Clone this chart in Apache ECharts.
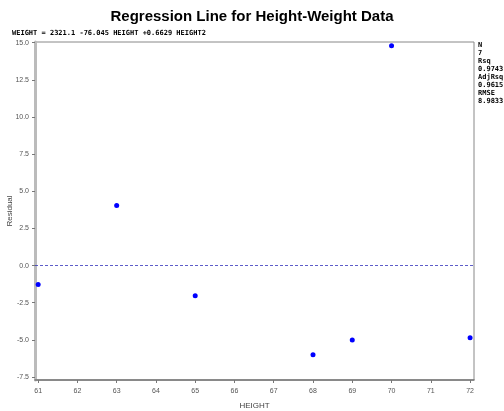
<!DOCTYPE html>
<html><head><meta charset="utf-8">
<script src="https://cdn.jsdelivr.net/npm/echarts@6/dist/echarts.min.js"></script>
<style>html,body{margin:0;padding:0;background:#fff}#c{width:504px;height:411px}</style>
</head><body><div id="c"></div>
<script>
const heights = [61, 63, 65, 68, 69, 70, 72];
const residuals = [-1.28, 4.05, -2.03, -6.0, -5.0, 14.8, -4.86];
const xTicks = [61, 62, 63, 64, 65, 66, 67, 68, 69, 70, 71, 72];
const yTicks = [-7.5, -5.0, -2.5, 0.0, 2.5, 5.0, 7.5, 10.0, 12.5, 15.0];
const titleText = 'Regression Line for Height-Weight Data';
const equationText = 'WEIGHT = 2321.1 -76.045 HEIGHT +0.6629 HEIGHT2';
const statsText = ['N', '7', 'Rsq', '0.9743', 'AdjRsq', '0.9615', 'RMSE', '8.9833'];

const chart = echarts.init(document.getElementById('c'), null, {renderer: 'canvas'});
const lbl = {fontFamily: 'Liberation Sans, Arial', fontSize: 7, color: '#555'};
chart.setOption({
  animation: false,
  title: {text: titleText, left: 'center', top: 4,
    textStyle: {fontFamily: 'Liberation Sans, Arial', fontWeight: 'bold', fontSize: 15, color: '#000'}},
  graphic: [
    {type: 'text', left: 12, top: 30, style: {text: equationText, font: 'bold 7px "DejaVu Sans Mono", monospace', fill: '#000'}},
    {type: 'text', left: 478, top: 41, style: {text: statsText.join('\n'), font: 'bold 7px "DejaVu Sans Mono", monospace', fill: '#000', lineHeight: 8}}
  ],
  grid: {left: 35, right: 30, top: 42, bottom: 31, show: true, borderColor: '#888', borderWidth: 1,
    containLabel: false, outerBoundsMode: 'none'},
  xAxis: {type: 'value', min: 60.92, max: 72.1, name: 'HEIGHT', nameLocation: 'middle', nameGap: 22,
    nameMoveOverlap: false,
    nameTextStyle: {fontFamily: 'Liberation Sans, Arial', fontSize: 8, color: '#444'},
    splitLine: {show: false},
    axisLine: {onZero: false, lineStyle: {color: '#777', width: 1.5}},
    axisTick: {customValues: xTicks, length: 3, lineStyle: {color: '#777'}},
    axisLabel: Object.assign({customValues: xTicks, margin: 8}, lbl)},
  yAxis: {type: 'value', min: -7.7, max: 15.05, name: 'Residual', nameLocation: 'middle', nameGap: 21,
    nameMoveOverlap: false,
    nameTextStyle: {fontFamily: 'Liberation Sans, Arial', fontSize: 8, color: '#444'},
    splitLine: {show: false},
    axisLine: {show: true, onZero: false, lineStyle: {color: '#bbb', width: 3}},
    axisTick: {show: true, customValues: yTicks, length: 3, lineStyle: {color: '#777'}},
    axisLabel: Object.assign({customValues: yTicks, margin: 6, formatter: v => v.toFixed(1)}, lbl)},
  series: [{
    type: 'scatter', data: heights.map((h, i) => [h, residuals[i]]),
    symbolSize: 5, itemStyle: {color: '#0000ff', opacity: 1},
    markLine: {silent: true, symbol: 'none', label: {show: false},
      lineStyle: {type: [3, 2], color: '#3333bb', width: 0.8},
      data: [{yAxis: 0}]}
  }]
});
</script></body></html>
